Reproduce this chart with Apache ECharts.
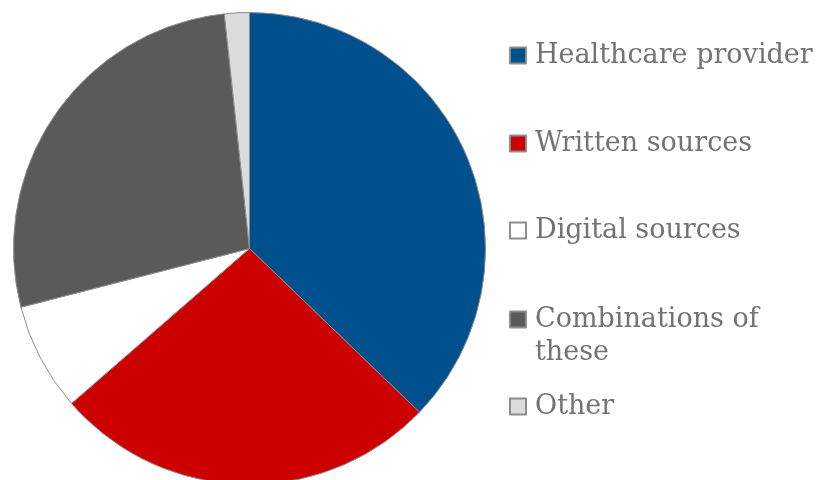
<!DOCTYPE html>
<html><head><meta charset="utf-8">
<script src="https://cdn.jsdelivr.net/npm/echarts@6/dist/echarts.min.js"></script>
<style>html,body{margin:0;padding:0;background:#fff}#c{width:820px;height:480px}</style>
</head><body><div id="c"></div>
<script>
const categories = ['Healthcare provider','Written sources','Digital sources','Combinations of these','Other'];
const values = [37.2, 26.4, 7.4, 27.3, 1.7];
const colors = ['#00508E','#CC0000','#FFFFFF','#5A5A5A','#DCDCDC'];
const legendTops = [55, 143, 230, 319, 406];
const legendLabels = ['Healthcare provider','Written sources','Digital sources','Combinations of','Other'];

const FONT = 'DejaVu Serif';
const FS = 27;
const textColor = '#737373';

const chart = echarts.init(document.getElementById('c'));
const legends = categories.map((name, i) => ({
  data: [name],
  left: 509,
  top: legendTops[i] - 13,
  padding: 0,
  itemWidth: 16,
  itemHeight: 16,
  icon: 'rect',
  selectedMode: false,
  formatter: () => legendLabels[i],
  textStyle: {fontFamily: FONT, fontSize: FS, color: textColor, lineHeight: 16, padding: [0, 0, 0, 4]}
}));
chart.setOption({
  animation: false,
  legend: legends,
  graphic: [{
    type: 'text', x: 535, y: 353,
    style: {text: 'these', fontFamily: FONT, fontSize: FS, fill: textColor, verticalAlign: 'middle'}
  }],
  series: [{
    type: 'pie',
    center: [249.5, 248.5],
    radius: 236,
    startAngle: 90,
    clockwise: true,
    label: {show: false},
    labelLine: {show: false},
    emphasis: {disabled: true},
    itemStyle: {borderColor: '#8C8C8C', borderWidth: 1},
    data: categories.map((n, i) => ({name: n, value: values[i], itemStyle: {color: colors[i]}}))
  }]
});
</script></body></html>
